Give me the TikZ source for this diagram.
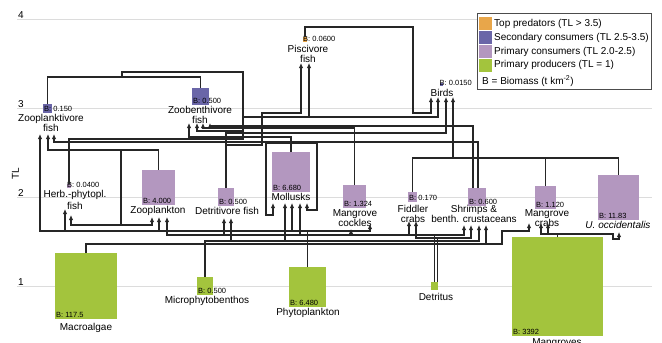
\documentclass[tikz,border=0pt]{standalone}
\usepackage{fontspec}
\setmainfont{Liberation Sans}
\usepackage{tikz}
\usetikzlibrary{calc,arrows.meta}
\definecolor{top_pred}{HTML}{E8A64A}
\definecolor{sec_cons}{HTML}{6A66A8}
\definecolor{prim_cons}{HTML}{B397BF}
\definecolor{prim_prod}{HTML}{A3C43D}
\definecolor{grid_gray}{HTML}{DCDCDC}

\begin{document}
\begin{tikzpicture}[x=1pt,y=-1pt,>={Latex[length=5pt,width=4.5pt]},
  box/.style={inner sep=0pt,outer sep=0pt},
  blab/.style={font=\fontsize{7.5}{8}\selectfont,anchor=base west,inner sep=0pt},
  lab/.style={font=\fontsize{10}{10}\selectfont,anchor=north,align=center,inner sep=0pt},
  link/.style={line width=1.1pt,black!85},
  feed/.style={link,->}]

        \useasboundingbox (0,0) rectangle (662,343);

        % Lignes de niveau trophique
        \foreach \y/\t in {19/4,108/3,197/2,286/1}{
            \draw[grid_gray,line width=0.8pt] (17,\y) -- (652,\y);
            \node[anchor=base west,inner sep=0pt,font=\fontsize{10}{10}\selectfont] (tl\t) at (18,\y-1) {\t};
        }
        \node[rotate=90,inner sep=0pt,font=\fontsize{10}{10}\selectfont] (tl) at (15.5,174) {TL};

        % Légende
        \draw[black!70,line width=0.8pt,fill=white] (477,13) rectangle (651,89);
        \fill[top_pred] (479,17) rectangle (492,30);
        \fill[sec_cons] (479,31) rectangle (492,44);
        \fill[prim_cons] (479,45) rectangle (492,58);
        \fill[prim_prod] (479,59) rectangle (492,72);
        \node[anchor=west,inner sep=0pt,font=\fontsize{10}{10}\selectfont] (leg1) at (494,24) {Top predators (TL > 3.5)};
        \node[anchor=west,inner sep=0pt,font=\fontsize{10}{10}\selectfont] (leg2) at (494,38) {Secondary consumers (TL 2.5-3.5)};
        \node[anchor=west,inner sep=0pt,font=\fontsize{10}{10}\selectfont] (leg3) at (494,52) {Primary consumers (TL 2.0-2.5)};
        \node[anchor=west,inner sep=0pt,font=\fontsize{10}{10}\selectfont] (leg4) at (494,65) {Primary producers (TL = 1)};
        \node[anchor=west,inner sep=0pt,font=\fontsize{10}{10}\selectfont] (leg5) at (482,81) {B = Biomass (t km\textsuperscript{-2})};

        % Boîtes des groupes
        \node[box,fill=sec_cons,minimum width=9,minimum height=9] (zpf) at (47.5,108.5) {};
        \node[box,fill=sec_cons,minimum width=17,minimum height=17] (zbf) at (200.5,96.5) {};
        \node[box,fill=top_pred,minimum width=4,minimum height=5] (pf) at (305,39.5) {};
        \node[box,fill=sec_cons,minimum width=3,minimum height=3] (bd) at (441,84) {};
        \node[box,fill=prim_cons,minimum width=4,minimum height=4] (hpf) at (69,186) {};
        \node[box,fill=prim_cons,minimum width=33,minimum height=35] (zp) at (158.5,187.5) {};
        \node[box,fill=prim_cons,minimum width=16,minimum height=18] (dff) at (226,197) {};
        \node[box,fill=prim_cons,minimum width=38,minimum height=40] (ml) at (291,172) {};
        \node[box,fill=prim_cons,minimum width=23,minimum height=23] (ck) at (354.5,196.5) {};
        \node[box,fill=prim_cons,minimum width=9,minimum height=10] (fc) at (412.5,197) {};
        \node[box,fill=prim_cons,minimum width=18,minimum height=18] (sh) at (477,197) {};
        \node[box,fill=prim_cons,minimum width=21,minimum height=23] (mc) at (545.5,197.5) {};
        \node[box,fill=prim_cons,minimum width=41,minimum height=45] (uo) at (618.5,197.5) {};
        \node[box,fill=prim_prod,minimum width=62,minimum height=66] (ma) at (86,286) {};
        \node[box,fill=prim_prod,minimum width=16,minimum height=18] (mpb) at (205,286) {};
        \node[box,fill=prim_prod,minimum width=37,minimum height=40] (ph) at (307.5,287) {};
        \node[box,fill=prim_prod,minimum width=7,minimum height=8] (dt) at (434.5,286) {};
        \node[box,fill=prim_prod,minimum width=91,minimum height=99] (mg) at (557.5,286.5) {};

        % Biomasses
        \node[blab] (zpf-b) at ($(zpf.south west)+(1,-1.5)$) {B: 0.150};
        \node[blab] (zbf-b) at ($(zbf.south west)+(1,-1.5)$) {B: 0.500};
        \node[blab] (pf-b) at ($(pf.south west)+(0,-1)$) {B: 0.0600};
        \node[blab] (bd-b) at ($(bd.south west)+(0,-0.5)$) {B: 0.0150};
        \node[blab] (hpf-b) at ($(hpf.south west)+(0,-1)$) {B: 0.0400};
        \node[blab] (zp-b) at ($(zp.south west)+(1,-1.5)$) {B: 4.000};
        \node[blab] (dff-b) at ($(dff.south west)+(1,-1.5)$) {B: 0.500};
        \node[blab] (ml-b) at ($(ml.south west)+(1,-1.5)$) {B: 6.680};
        \node[blab] (ck-b) at ($(ck.south west)+(1,-1.5)$) {B: 1.324};
        \node[blab] (fc-b) at ($(fc.south west)+(1,-1.5)$) {B: 0.170};
        \node[blab] (sh-b) at ($(sh.south west)+(1,-1.5)$) {B: 0.600};
        \node[blab] (mc-b) at ($(mc.south west)+(1,-1.5)$) {B: 1.120};
        \node[blab] (uo-b) at ($(uo.south west)+(1,-1.5)$) {B: 11.83};
        \node[blab] (ma-b) at ($(ma.south west)+(1,-1.5)$) {B: 117.5};
        \node[blab] (mpb-b) at ($(mpb.south west)+(1,-1.5)$) {B: 0.500};
        \node[blab] (ph-b) at ($(ph.south west)+(1,-1.5)$) {B: 6.480};
        \node[blab] (mg-b) at ($(mg.south west)+(1,-1.5)$) {B: 3392};

        % Noms des groupes
        \node[lab] (zpf-l) at (51,114) {Zooplanktivore\\fish};
        \node[lab] (zbf-l) at (200,106) {Zoobenthivore\\fish};
        \node[lab] (pf-l) at (308,45) {Piscivore\\fish};
        \node[lab] (bd-l) at (442,89) {Birds};
        \node[lab] (hpf-l) at (75,190) {Herb.-phytopl.\\[2pt]fish};
        \node[lab] (zp-l) at (158,206) {Zooplankton};
        \node[lab] (dff-l) at (227,207) {Detritivore fish};
        \node[lab] (ml-l) at (291,193) {Mollusks};
        \node[lab] (ck-l) at (355,209) {Mangrove\\cockles};
        \node[lab] (fc-l) at (413,205) {Fiddler\\crabs};
        \node[lab] (sh-l) at (474,205) {Shrimps \&\\benth. crustaceans};
        \node[lab] (mc-l) at (547,209) {Mangrove\\crabs};
        \node[lab] (uo-l) at (618,221) {\textit{U. occidentalis}};
        \node[lab] (ma-l) at (86,323) {Macroalgae};
        \node[lab] (mpb-l) at (207,296) {Microphytobenthos};
        \node[lab] (ph-l) at (308,308) {Phytoplankton};
        \node[lab] (dt-l) at (436,293) {Detritus};
        \node[lab] (mg-l) at (557,338) {Mangroves};

        % Points d'arrivée des flèches
        \coordinate (zpf-in1) at (40,134);  \coordinate (zpf-in2) at (48,134);  \coordinate (zpf-in3) at (54,134);
        \coordinate (zbf-in1) at (189,123); \coordinate (zbf-in2) at (197,123); \coordinate (zbf-in3) at (203,123); \coordinate (zbf-in4) at (210,123);
        \coordinate (pf-in1) at (301,63);   \coordinate (pf-in2) at (309,63);
        \coordinate (bd-in1) at (431,97);   \coordinate (bd-in2) at (438,97);   \coordinate (bd-in3) at (446,97);   \coordinate (bd-in4) at (453,97);
        \coordinate (hpf-in1) at (65,209);  \coordinate (hpf-in2) at (71,215);
        \coordinate (zp-in1) at (152,217);  \coordinate (zp-in2) at (159,217);  \coordinate (zp-in3) at (167,217);
        \coordinate (dff-in1) at (224,218); \coordinate (dff-in2) at (231,218);
        \coordinate (ml-in1) at (273,203);  \coordinate (ml-in2) at (285,203);  \coordinate (ml-in3) at (292,203);
        \coordinate (ml-in4) at (300,203);  \coordinate (ml-in5) at (307,203);
        \coordinate (ck-in1) at (351,229);  \coordinate (ck-in2) at (370,224);
        \coordinate (fc-in1) at (409,221);  \coordinate (fc-in2) at (416,221);
        \coordinate (sh-in1) at (464,225);  \coordinate (sh-in2) at (471,225);  \coordinate (sh-in3) at (479,225);  \coordinate (sh-in4) at (486,225);
        \coordinate (mc-in1) at (529,223);  \coordinate (mc-in2) at (541,223);  \coordinate (mc-in3) at (548,223);
        \coordinate (uo-in1) at (619,232);

        % Prédateurs supérieurs
        \draw[feed] (pf.north) |- (413,27) |- (431,113) -- (bd-in1);
        \draw[link] (zpf.north) -- (47.5,77) -| (zbf.north);
        \draw[feed] (122,77) |- (243,72) |- (197,131) -- (zbf-in2);
        \draw[feed] (243,117) -| (pf-in2);
        \draw[feed] (309,117) -| (bd-in2);
        \draw[link] (hpf.north) |- (243,139) -- (243,131);
        \draw[feed] (dff.north) |- (262,145) |- (301,113) -- (pf-in1);
        \draw[feed] (226,145) |- (446,133) -- (bd-in3);
        \draw[feed] (ml.north) |- (189,137) -- (zbf-in1);
        \draw[link] (266,143) -- (317,143);
        \draw[feed] (266,143) |- (273,215) -- (ml-in1);
        \draw[feed] (317,143) |- (307,210) -- (ml-in5);
        \draw[feed] (ck.north) |- (203,128) -- (zbf-in3);
        \draw[feed] ($(sh.north)+(-4,0)$) |- (210,126) -- (zbf-in4);
        \draw[feed] ($(sh.north)+(1,0)$) |- (54,142) -- (zpf-in3);

        % Zooplancton
        \draw[feed] (zp.north) |- (48,150) -- (zpf-in2);
        \draw[feed] (121,150) |- (71,225) -- (hpf-in2);
        \draw[feed] (121,225) -| (zp-in1);

        % Crabes et oiseaux
        \draw[link] (fc.north) |- (618.5,158) -- (uo.north);
        \draw[link] (mc.north) -- (545.5,158);
        \draw[feed] (453,158) -- (bd-in4);

        % Phytoplancton
        \draw[feed] (ph.north) |- (40,231) -- (zpf-in1);
        \draw[feed] (65,231) -- (hpf-in1);
        \draw[feed] (159,231) -- (zp-in2);
        \draw[feed] (292,231) -- (ml-in3);
        \draw[feed] (307.5,231) -| (ck-in2);

        % Détritus
        \draw[feed] (dt.north) |- (167,235) -- (zp-in3);
        \draw[feed] (224,235) -- (dff-in1);
        \draw[feed] (300,235) -- (ml-in4);
        \draw[feed] (351,235) -- (ck-in1);
        \draw[feed] (409,235) -- (fc-in1);
        \draw[feed] (434.5,235) -| (sh-in1);
        \draw[feed] ($(dt.north)+(3,0)$) |- (416,238) -- (fc-in2);
        \draw[feed] (437.5,238) -| (sh-in2);

        % Microphytobenthos
        \draw[feed] (mpb.north) |- (479,241) -- (sh-in3);
        \draw[feed] (231,241) -- (dff-in2);
        \draw[feed] (285,241) -- (ml-in2);

        % Macroalgues
        \draw[feed] (ma.north) |- (486,244) -- (sh-in4);
        \draw[feed] (486,244) -| (502,231) -| (mc-in1);

        % Palétuviers
        \draw[feed] (mg.north) |- (541,234) -- (mc-in2);
        \draw[feed] (548,234) -- (mc-in3);
        \draw[feed] (557.5,234) -| (613,239) -| (uo-in1);
    \end{tikzpicture}
\end{document}
